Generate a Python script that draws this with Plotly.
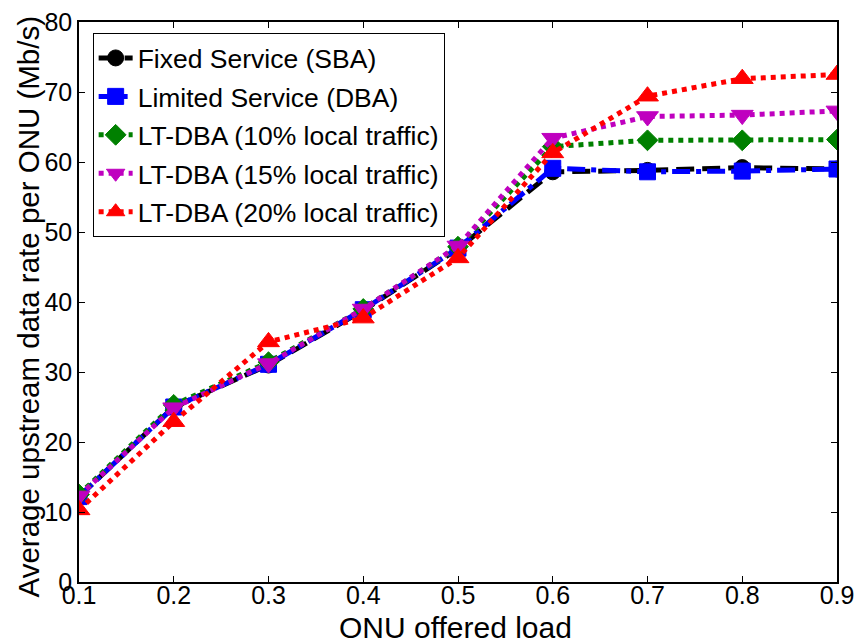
import plotly.graph_objects as go

# Offered load per ONU
load = [0.1, 0.2, 0.3, 0.4, 0.5, 0.6, 0.7, 0.8, 0.9]

# Average upstream data rate per ONU (Mb/s)
fixed_sba = [12.2, 25.0, 31.0, 38.8, 47.6, 58.6, 58.8, 59.2, 59.0]
limited_dba = [12.2, 25.0, 31.1, 38.9, 47.7, 59.1, 58.6, 58.7, 59.0]
ltdba_10 = [12.5, 25.3, 31.4, 39.0, 47.9, 62.2, 63.1, 63.1, 63.2]
ltdba_15 = [12.3, 24.9, 31.2, 39.0, 48.0, 63.4, 66.5, 66.7, 67.3]
ltdba_20 = [10.3, 22.9, 34.3, 37.7, 46.3, 61.3, 69.4, 71.9, 72.5]

y_ticks = [0, 10, 20, 30, 40, 50, 60, 70, 80]
x_ticks = [0.1, 0.2, 0.3, 0.4, 0.5, 0.6, 0.7, 0.8, 0.9]

x_title = "ONU offered load"
y_title = "Average upstream data rate per ONU (Mb/s)"

series = [
    ("Fixed Service (SBA)", fixed_sba, "black", "18px,8px", "circle", 16),
    ("Limited Service (DBA)", limited_dba, "blue", "18px,6px,5px,6px", "square", 16),
    ("LT-DBA (10% local traffic)", ltdba_10, "green", "5px,5px", "diamond", 16),
    ("LT-DBA (15% local traffic)", ltdba_15, "#bf00bf", "5px,5px", "triangle-down", 19),
    ("LT-DBA (20% local traffic)", ltdba_20, "red", "5px,5px", "triangle-up", 19),
]

fig = go.Figure()
for i, (name, vals, color, dash, sym, size) in enumerate(series):
    fig.add_trace(go.Scatter(
        x=load, y=vals, name=name, mode="lines+markers",
        legendgroup=f"g{i}",
        line=dict(color=color, width=5, dash=dash),
        marker=dict(symbol=sym, size=size, color=color,
                    line=dict(color=color, width=1)),
    ))

axis_common = dict(
    automargin=False,
    showline=True, linecolor="black", linewidth=1.5, mirror="ticks",
    ticks="inside", ticklen=6, tickcolor="black", tickwidth=1,
    showgrid=False, zeroline=False,
    tickfont=dict(family="Liberation Sans, Arial", size=25, color="black"),
)

fig.update_layout(
    width=856, height=643,
    margin=dict(l=79, r=19, t=22, b=61),
    paper_bgcolor="white", plot_bgcolor="white",
    font=dict(family="Liberation Sans, Arial", color="black"),
    xaxis=dict(range=[0.1, 0.9], tickvals=x_ticks,
               ticktext=[f"{v:.1f}" for v in x_ticks],
               ticklabelstandoff=-10,
               **axis_common),
    yaxis=dict(range=[0, 80], tickvals=y_ticks, **axis_common),
    legend=dict(x=0.018, y=0.98, xanchor="left", yanchor="top",
                bgcolor="white", bordercolor="black", borderwidth=1,
                font=dict(size=26.5, color="black"),
                tracegroupgap=1, itemwidth=34),
    showlegend=True,
    annotations=[
        dict(text=x_title, xref="paper", yref="paper", x=0.497, y=-0.081,
             xanchor="center", yanchor="middle", showarrow=False,
             font=dict(size=30, color="black")),
        dict(text=y_title, xref="paper", yref="paper", x=-0.066, y=0.492,
             xanchor="center", yanchor="middle", showarrow=False,
             textangle=-90, font=dict(size=29.5, color="black")),
    ],
)

fig.write_html("out.html")
